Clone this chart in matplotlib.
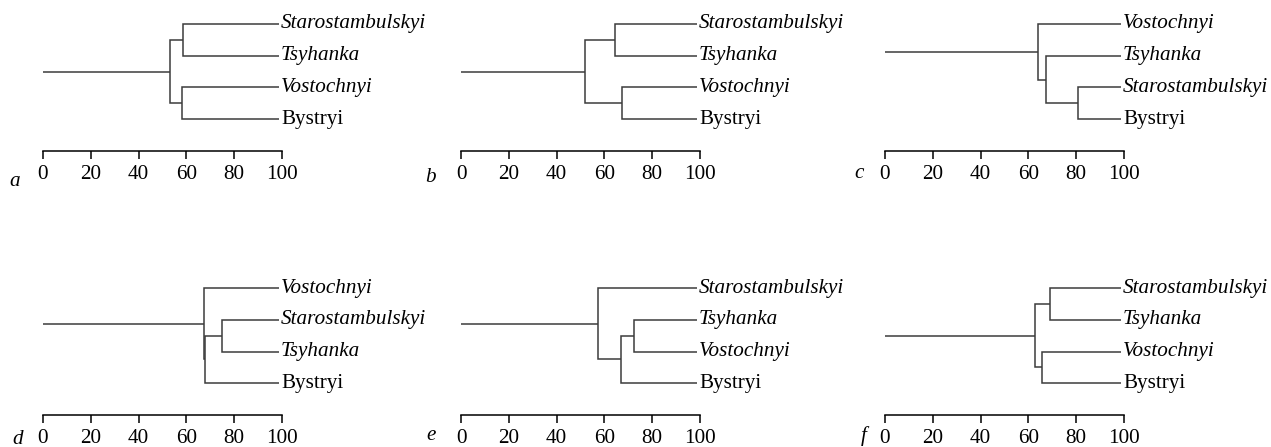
import matplotlib.pyplot as plt

# --- data: leaf order (top -> bottom) and merges (node_i, node_j, similarity %) ---
# nodes 0..3 are leaves, every merge creates node 4, 5, 6
panel_letters = ['a', 'b', 'c', 'd', 'e', 'f']

leaves_a = ['Starostambulskyi', 'Tsyhanka', 'Vostochnyi', 'Bystryi']
merges_a = [(0, 1, 58.7), (2, 3, 58.1), (4, 5, 53.0)]

leaves_b = ['Starostambulskyi', 'Tsyhanka', 'Vostochnyi', 'Bystryi']
merges_b = [(0, 1, 64.5), (2, 3, 67.3), (4, 5, 52.0)]

leaves_c = ['Vostochnyi', 'Tsyhanka', 'Starostambulskyi', 'Bystryi']
merges_c = [(2, 3, 80.9), (1, 4, 67.5), (0, 5, 64.2)]

leaves_d = ['Vostochnyi', 'Starostambulskyi', 'Tsyhanka', 'Bystryi']
merges_d = [(1, 2, 74.9), (4, 3, 67.9), (0, 5, 67.3)]

leaves_e = ['Starostambulskyi', 'Tsyhanka', 'Vostochnyi', 'Bystryi']
merges_e = [(1, 2, 72.5), (4, 3, 66.9), (0, 5, 57.4)]

leaves_f = ['Starostambulskyi', 'Tsyhanka', 'Vostochnyi', 'Bystryi']
merges_f = [(0, 1, 69.0), (2, 3, 65.8), (4, 5, 62.6)]

leaf_level = 98.7          # where the leaf branches end
upright_names = ['Bystryi']  # all other names are printed in italics
tick_values = [0, 20, 40, 60, 80, 100]

panels = [
    (leaves_a, merges_a), (leaves_b, merges_b), (leaves_c, merges_c),
    (leaves_d, merges_d), (leaves_e, merges_e), (leaves_f, merges_f),
]

# --- layout (pixels of the 1271x447 picture) ---
W, H = 1271, 447
col_left = [43, 461, 885]
col_width = 239
row_top = [24, 288]
row_bottom = [151, 415]
# panel letter offsets from the axis origin (pixels)
letter_offsets = [(-28, -35), (-30, -30.5), (-26, -26.5),
                  (-25, -29.5), (-30, -24.5), (-21, -26)]

plt.rcParams['font.family'] = ['Liberation Serif', 'DejaVu Serif']
line_col = '#3c3c3c'
fs = 15.2

fig = plt.figure(figsize=(W / 100, H / 100), dpi=100)


def draw_dendrogram(ax, leaves, merges):
    pos = {i: (leaf_level, i) for i in range(len(leaves))}
    for k, (a, b, h) in enumerate(merges):
        xa, ya = pos[a]
        xb, yb = pos[b]
        ax.plot([xa, h, h, xb], [ya, ya, yb, yb], color=line_col,
                lw=1.1, solid_joinstyle='miter', solid_capstyle='butt',
                clip_on=False)
        pos[len(leaves) + k] = (h, (ya + yb) / 2)
    # root stem back to 0
    h_root, y_root = pos[len(leaves) + len(merges) - 1]
    ax.plot([0, h_root], [y_root, y_root], color=line_col, lw=1.1,
            solid_capstyle='butt', clip_on=False)

    for i, name in enumerate(leaves):
        style = 'normal' if name in upright_names else 'italic'
        ax.annotate(name, xy=(leaf_level, i), xytext=(2, -4.5),
                    textcoords='offset pixels', ha='left', va='baseline',
                    fontsize=fs, fontstyle=style, annotation_clip=False)


for idx, (leaves, merges) in enumerate(panels):
    r, c = divmod(idx, 3)
    left = col_left[c] / W
    bottom = 1 - row_bottom[r] / H
    height = (row_bottom[r] - row_top[r]) / H
    ax = fig.add_axes([left, bottom, col_width / W, height])

    draw_dendrogram(ax, leaves, merges)

    ax.set_xlim(0, 100)
    ax.set_ylim(4, 0)
    for side in ['top', 'right', 'left']:
        ax.spines[side].set_visible(False)
    ax.spines['bottom'].set_linewidth(1.1)
    ax.spines['bottom'].set_color('black')
    ax.set_yticks([])
    ax.set_xticks(tick_values)
    ax.tick_params(axis='x', direction='out', length=5.8, width=1.1,
                   pad=4.6, labelsize=fs, colors='black')
    ax.set_facecolor('none')

    dx, dy = letter_offsets[idx]
    ax.annotate(panel_letters[idx], xy=(0, 0), xycoords='axes fraction',
                xytext=(dx, dy), textcoords='offset pixels', ha='center',
                va='baseline', fontsize=fs, fontstyle='italic',
                annotation_clip=False)

fig.savefig('out.png', dpi=100)
plt.close(fig)
